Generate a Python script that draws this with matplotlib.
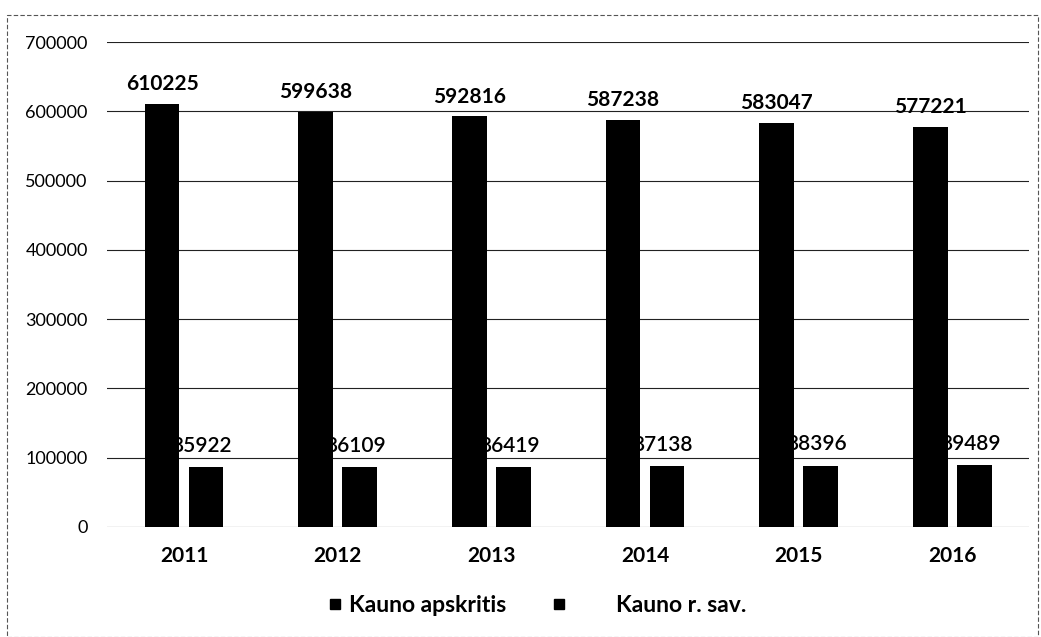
import matplotlib.pyplot as plt
from matplotlib.patches import Rectangle
from matplotlib.lines import Line2D
import numpy as np

years = ["2011", "2012", "2013", "2014", "2015", "2016"]
apskritis = [610225, 599638, 592816, 587238, 583047, 577221]
r_sav = [85922, 86109, 86419, 87138, 88396, 89489]

plt.rcParams['font.family'] = ['Lato', 'DejaVu Sans']


def main():
    fig = plt.figure(figsize=(10.41, 6.37), dpi=100)
    ax = fig.add_axes([0.103, 0.173, 0.8855, 0.761])

    x = np.arange(len(years))
    off = 0.143
    w = 0.226
    ax.bar(x - off, apskritis, w, color='black', zorder=3)
    ax.bar(x + off, r_sav, w, color='black', zorder=3)

    for xi, v in zip(x, apskritis):
        ax.annotate(str(v), (xi - off, v), xytext=(0, 7), textcoords='offset points',
                    ha='center', va='bottom', fontsize=15, fontweight='bold', zorder=2)
    for xi, v in zip(x, r_sav):
        ax.annotate(str(v), (xi + off, v), xytext=(-3, 8), textcoords='offset points',
                    ha='center', va='bottom', fontsize=15, fontweight='semibold', zorder=2)

    ax.set_xlim(-0.5, len(years) - 0.5)
    ax.set_ylim(0, 700000)
    ax.set_yticks(range(0, 700001, 100000))
    ax.set_xticks(x)
    ax.set_xticklabels(years, fontsize=15, fontweight='bold')
    ax.tick_params(axis='y', length=0, pad=14, labelsize=13)
    ax.tick_params(axis='x', length=0, pad=14)
    ax.yaxis.grid(True, color='#222222', linewidth=0.8, linestyle='-')
    ax.set_axisbelow(True)
    for s in ax.spines.values():
        s.set_visible(False)

    handles = [Line2D([], [], marker='s', linestyle='none', color='black', markersize=7),
               Line2D([], [], marker='s', linestyle='none', color='black', markersize=7)]
    fig.legend(handles, ["Kauno apskritis", "        Kauno r. sav."], loc='center',
               bbox_to_anchor=(0.514, 0.05), ncol=2, frameon=False,
               prop={'size': 16.5, 'weight': 'bold'}, handletextpad=0.1,
               columnspacing=1.8, handlelength=1.0)

    fig.patches.append(Rectangle((0.007, 0.0), 0.99, 0.976, transform=fig.transFigure,
                                 fill=False, edgecolor='#555555', linewidth=0.8,
                                 linestyle=(0, (4, 2))))

    fig.savefig("out.png", dpi=100)


if __name__ == "__main__":
    main()
